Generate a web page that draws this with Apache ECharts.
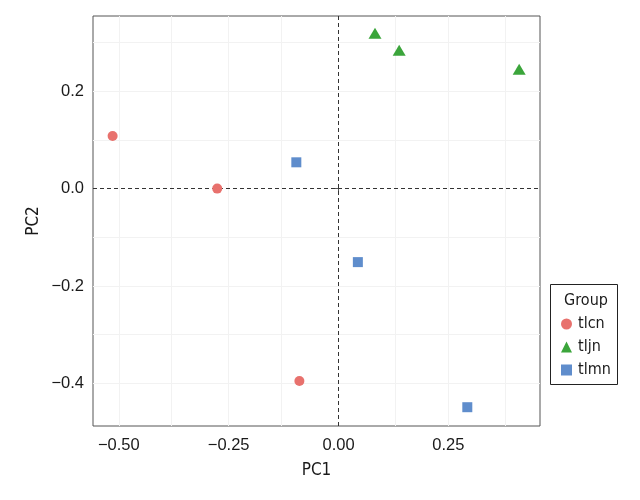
<!DOCTYPE html>
<html><head><meta charset="utf-8">
<script src="https://cdn.jsdelivr.net/npm/echarts@6/dist/echarts.min.js"></script>
<style>html,body{margin:0;padding:0;background:#fff}#c{width:640px;height:500px}</style>
</head><body><div id="c"></div>
<script>
const groups = ['tlcn', 'tljn', 'tlmn'];
const tlcnPC1 = [-0.514, -0.276, -0.089];
const tlcnPC2 = [0.108, 0.000, -0.395];
const tljnPC1 = [0.083, 0.138, 0.411];
const tljnPC2 = [0.319, 0.284, 0.245];
const tlmnPC1 = [-0.096, 0.044, 0.293];
const tlmnPC2 = [0.054, -0.151, -0.449];
const xTicks = [-0.5, -0.25, 0, 0.25];
const yTicks = [-0.4, -0.2, 0, 0.2];
const xGrid = [-0.5, -0.375, -0.25, -0.125, 0.125, 0.25, 0.375];
const yGrid = [-0.4, -0.3, -0.2, -0.1, 0.1, 0.2, 0.3];

const FONT = '"DejaVu Sans Condensed",sans-serif';
const TICKFONT = '"Liberation Sans",sans-serif';
const colors = ['#E8716D', '#3BA53B', '#5F8DCC'];
const symbols = ['circle', 'triangle', 'rect'];
const sizes = [10, [13, 11], 10];
const fmt = (v, d) => (v < 0 ? '\u2212' : '') + Math.abs(v).toFixed(d);
const zip = (a, b) => a.map((v, i) => [v, b[i]]);
const pts = [zip(tlcnPC1, tlcnPC2), zip(tljnPC1, tljnPC2), zip(tlmnPC1, tlmnPC2)];

const chart = echarts.init(document.getElementById('c'));
const series = groups.map((g, i) => ({
  name: g, type: 'scatter', data: pts[i], symbol: symbols[i], symbolSize: sizes[i],
  itemStyle: { color: colors[i], opacity: 1 }, z: 5
}));
series.unshift({
  type: 'scatter', data: [], silent: true, z: 1,
  markLine: {
    silent: true, symbol: 'none', animation: false, label: { show: false },
    lineStyle: { color: '#f2f2f2', width: 1, type: 'solid' },
    data: xGrid.map(v => ({ xAxis: v })).concat(yGrid.map(v => ({ yAxis: v })))
  }
});
series.push({
  type: 'scatter', data: [], silent: true, z: 2,
  markLine: {
    silent: true, symbol: 'none', animation: false, label: { show: false },
    lineStyle: { color: '#333', width: 1, type: [4, 3] },
    data: [{ xAxis: 0 }, { yAxis: 0 }]
  }
});
chart.setOption({
  animation: false,
  grid: { left: 93, top: 16, right: 100, bottom: 74, show: true, borderColor: '#555', borderWidth: 1, backgroundColor: '#fff' },
  xAxis: {
    type: 'value', min: -0.5586, max: 0.4584,
    name: 'PC1', nameLocation: 'middle', nameGap: 36, nameMoveOverlap: false,
    nameTextStyle: { fontFamily: FONT, fontSize: 17, color: '#1a1a1a' },
    axisLine: { show: false }, splitLine: { show: false },
    axisTick: { show: true, length: 4, lineStyle: { color: '#555' }, customValues: xTicks },
    axisLabel: { fontFamily: TICKFONT, fontSize: 16.5, color: '#1a1a1a', margin: 11, customValues: xTicks, formatter: v => fmt(v, 2) }
  },
  yAxis: {
    type: 'value', min: -0.4876, max: 0.3545,
    name: 'PC2', nameLocation: 'middle', nameGap: 51, nameRotate: 90, nameMoveOverlap: false,
    nameTextStyle: { fontFamily: FONT, fontSize: 17, color: '#1a1a1a' },
    axisLine: { show: false }, splitLine: { show: false },
    axisTick: { show: true, length: 4, lineStyle: { color: '#555' }, customValues: yTicks },
    axisLabel: { fontFamily: TICKFONT, fontSize: 16.5, color: '#1a1a1a', margin: 9, customValues: yTicks, formatter: v => fmt(v, 1) }
  },
  legend: {
    data: groups.map((g, i) => ({ name: g, icon: symbols[i] })),
    orient: 'vertical', left: 561, top: 316, itemWidth: 11, itemHeight: 11, itemGap: 7,
    textStyle: { fontFamily: FONT, fontSize: 16, lineHeight: 16, color: '#1a1a1a', padding: [0, 0, 0, 1] },
    selectedMode: false, padding: 0
  },
  graphic: [
    { type: 'rect', shape: { x: 550.5, y: 284.5, width: 67, height: 100 }, style: { fill: '#fff', stroke: '#222', lineWidth: 1 }, z: 0 },
    { type: 'text', x: 586, y: 301, style: { text: 'Group', font: '16px ' + FONT, fill: '#1a1a1a', textAlign: 'center', textVerticalAlign: 'middle' }, z: 1 }
  ],
  series: series
});
</script></body></html>
